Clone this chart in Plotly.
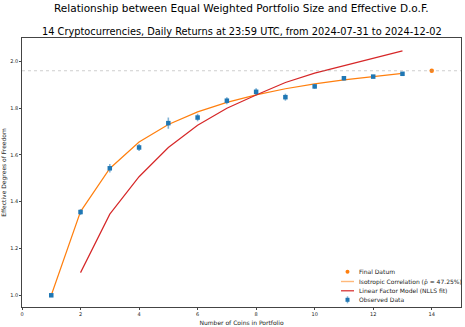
import plotly.graph_objects as go

n_obs = [1, 2, 3, 4, 5, 6, 7, 8, 9, 10, 11, 12, 13]
obs_vals = [1.0, 1.356, 1.543, 1.632, 1.736, 1.760, 1.832, 1.870, 1.847, 1.893, 1.928, 1.935, 1.947]
obs_err = [0.0, 0.013, 0.018, 0.015, 0.024, 0.016, 0.015, 0.015, 0.015, 0.010, 0.010, 0.007, 0.005]

n_iso = [1, 2, 3, 4, 5, 6, 7, 8, 9, 10, 11, 12, 13]
iso_vals = [1.0, 1.358, 1.542, 1.655, 1.730, 1.784, 1.825, 1.857, 1.883, 1.904, 1.921, 1.936, 1.949]

n_lfm = [2, 3, 4, 5, 6, 7, 8, 9, 10, 11, 12, 13]
lfm_vals = [1.097, 1.347, 1.507, 1.632, 1.727, 1.800, 1.856, 1.910, 1.950, 1.982, 2.015, 2.045]

final_n = [14]
final_val = [1.96]

legend_labels = ["Final Datum", "Isotropic Correlation (ρ̂ = 47.25%)",
                 "Linear Factor Model (NLLS fit)", "Observed Data"]

title = "Relationship between Equal Weighted Portfolio Size and Effective D.o.F."
subtitle = "14 Cryptocurrencies, Daily Returns at 23:59 UTC, from 2024-07-31 to 2024-12-02"

BLUE = "#1f77b4"
ORANGE = "#ff7f0e"
RED = "#d62728"
FONT = "DejaVu Sans"

W, H = 465, 327
L, R, T, B = 22, 4, 38, 20
PW, PH = W - L - R, H - T - B


def px(x):
    return (x - L) / PW


def py(y):
    return (H - B - y) / PH


fig = go.Figure()

fig.add_trace(go.Scatter(
    x=n_iso, y=iso_vals, mode="lines", name=legend_labels[1],
    line=dict(color=ORANGE, width=1.2), showlegend=False))
fig.add_trace(go.Scatter(
    x=n_lfm, y=lfm_vals, mode="lines", name=legend_labels[2],
    line=dict(color=RED, width=1.2), showlegend=False))
fig.add_trace(go.Scatter(
    x=n_obs, y=obs_vals, mode="markers", name=legend_labels[3],
    marker=dict(color=BLUE, size=4.5, symbol="square"),
    error_y=dict(type="data", array=obs_err, visible=True, color="rgba(31,119,180,0.55)",
                 thickness=1.6, width=0),
    showlegend=False))
fig.add_trace(go.Scatter(
    x=final_n, y=final_val, mode="markers", name=legend_labels[0],
    marker=dict(color=ORANGE, size=4.5), showlegend=False))

fig.add_hline(y=final_val[0], line=dict(color="rgba(150,150,150,0.6)", width=0.8, dash="dot"))

shapes = []
annotations = [
    dict(text=title, x=232.5 / W, xref="paper", y=py(8), yref="paper", showarrow=False,
         font=dict(size=10.5, family=FONT, color="black"), xanchor="center", yanchor="middle"),
    dict(text=subtitle, x=px(241.5), xref="paper", y=py(32), yref="paper", showarrow=False,
         font=dict(size=9.8, family=FONT, color="black"), xanchor="center", yanchor="middle"),
]

# manual compact legend (matplotlib style)
lx0, lx1, ly0, ly1 = 339, 459, 266.5, 304
shapes.append(dict(type="rect", xref="paper", yref="paper", x0=px(lx0), x1=px(lx1),
                   y0=py(ly1), y1=py(ly0), fillcolor="rgba(255,255,255,0.8)",
                   line=dict(color="#cccccc", width=0.6), layer="above"))
row_y = [271.7, 281.5, 290.8, 299.8]
gx0, gx1, gxc = 341, 354, 347.5
shapes.append(dict(type="circle", xref="paper", yref="paper",
                   x0=px(gxc - 2), x1=px(gxc + 2), y0=py(row_y[0] + 2), y1=py(row_y[0] - 2),
                   fillcolor=ORANGE, line=dict(width=0), layer="above"))
shapes.append(dict(type="line", xref="paper", yref="paper", x0=px(gx0), x1=px(gx1),
                   y0=py(row_y[1]), y1=py(row_y[1]),
                   line=dict(color="rgba(255,127,14,0.55)", width=1.4), layer="above"))
shapes.append(dict(type="line", xref="paper", yref="paper", x0=px(gx0), x1=px(gx1),
                   y0=py(row_y[2]), y1=py(row_y[2]),
                   line=dict(color=RED, width=1.2), layer="above"))
shapes.append(dict(type="line", xref="paper", yref="paper", x0=px(gxc), x1=px(gxc),
                   y0=py(row_y[3] + 3.5), y1=py(row_y[3] - 3.5),
                   line=dict(color="rgba(31,119,180,0.55)", width=1.5), layer="above"))
shapes.append(dict(type="rect", xref="paper", yref="paper",
                   x0=px(gxc - 2), x1=px(gxc + 2), y0=py(row_y[3] + 2), y1=py(row_y[3] - 2),
                   fillcolor=BLUE, line=dict(width=0), layer="above"))
for lbl, ry in zip(legend_labels, row_y):
    annotations.append(dict(text=lbl, x=px(357), y=py(ry), xref="paper", yref="paper",
                            xanchor="left", yanchor="middle", showarrow=False,
                            font=dict(size=6, family=FONT, color="#222")))

fig.update_layout(
    width=W, height=H,
    margin=dict(l=L, r=R, t=T, b=B, autoexpand=False),
    paper_bgcolor="white", plot_bgcolor="white",
    font=dict(family=FONT, size=5, color="#222"),
    showlegend=False,
    shapes=shapes,
    annotations=annotations,
)

fig.update_xaxes(range=[0, 15], tickvals=[0, 2, 4, 6, 8, 10, 12, 14], automargin=False,
                 showgrid=False, zeroline=False, showline=True, linecolor="#444", linewidth=0.8,
                 mirror=True, ticks="outside", ticklen=2, tickwidth=0.6, tickcolor="#444",
                 tickfont=dict(size=5, family=FONT),
                 title=dict(text="Number of Coins in Portfolio", font=dict(size=6, family=FONT), standoff=4))
fig.update_yaxes(range=[0.95, 2.1], tickvals=[1.0, 1.2, 1.4, 1.6, 1.8, 2.0], tickformat=".1f",
                 automargin=False,
                 showgrid=False, zeroline=False, showline=True, linecolor="#444", linewidth=0.8,
                 mirror=True, ticks="outside", ticklen=2, tickwidth=0.6, tickcolor="#444",
                 tickfont=dict(size=5, family=FONT),
                 title=dict(text="Effective Degrees of Freedom", font=dict(size=6, family=FONT), standoff=3))

fig.write_html("out.html", config={"displayModeBar": False},
               post_script="document.body.style.margin='0px';document.body.style.overflow='hidden';")
